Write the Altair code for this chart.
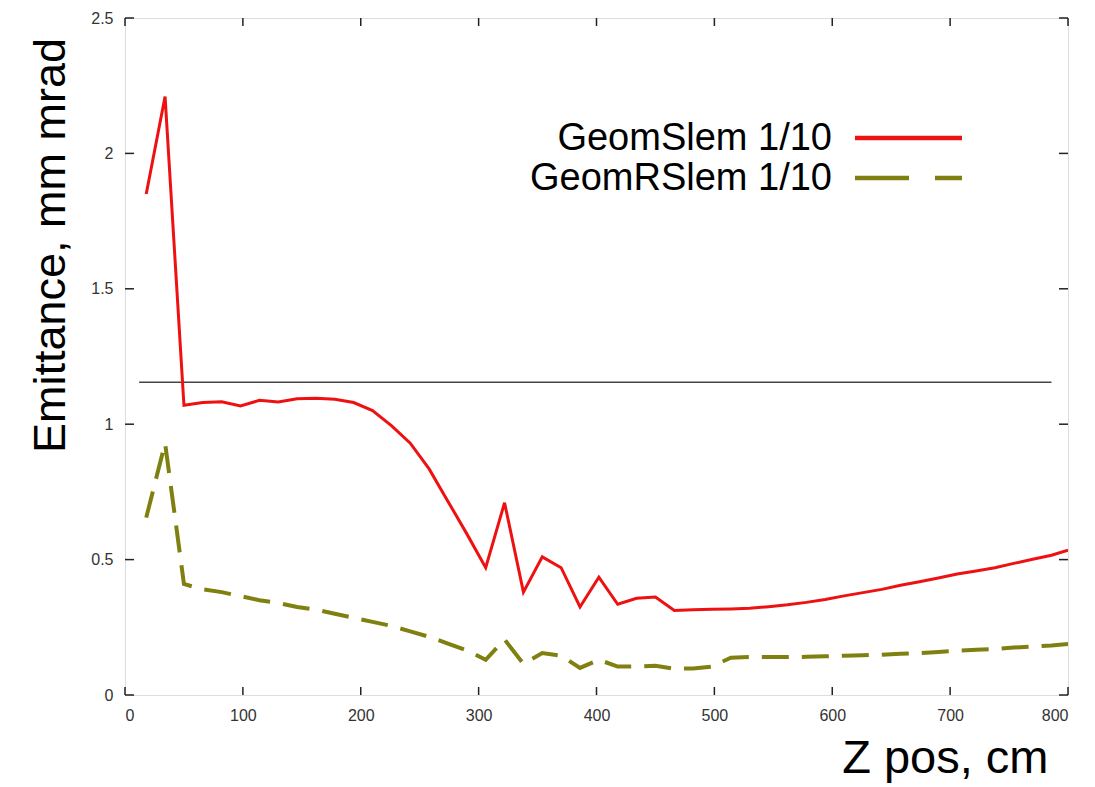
import altair as alt
import pandas as pd

# ---- data ----
z_pos = [18, 34, 50, 66, 82, 98, 114, 130, 146, 162, 178, 194, 210, 226, 242, 258,
         274, 290, 306, 322, 338, 354, 370, 386, 402, 418, 434, 450, 466, 482, 498,
         514, 530, 546, 562, 578, 594, 610, 626, 642, 658, 674, 690, 706, 722, 738,
         754, 770, 786, 800]
geom_slem = [1.85, 2.21, 1.07, 1.08, 1.083, 1.067, 1.088, 1.082, 1.094, 1.096, 1.092,
             1.08, 1.05, 0.995, 0.93, 0.835, 0.715, 0.595, 0.47, 0.71, 0.38, 0.51,
             0.47, 0.325, 0.435, 0.335, 0.357, 0.362, 0.312, 0.315, 0.317, 0.318, 0.32,
             0.326, 0.333, 0.342, 0.353, 0.366, 0.378, 0.39, 0.405, 0.418, 0.432,
             0.447, 0.458, 0.47, 0.486, 0.501, 0.516, 0.535]
geom_rslem = [0.655, 0.93, 0.41, 0.39, 0.38, 0.365, 0.35, 0.34, 0.325, 0.315, 0.30,
              0.285, 0.27, 0.255, 0.235, 0.215, 0.19, 0.165, 0.13, 0.205, 0.115, 0.155,
              0.145, 0.10, 0.13, 0.105, 0.105, 0.108, 0.097, 0.098, 0.105, 0.138, 0.14,
              0.14, 0.14, 0.141, 0.143, 0.145, 0.147, 0.149, 0.152, 0.155, 0.159,
              0.163, 0.167, 0.17, 0.175, 0.179, 0.183, 0.188]
series_names = ["GeomSlem 1/10", "GeomRSlem 1/10"]
x_ticks = [0, 100, 200, 300, 400, 500, 600, 700, 800]
y_ticks = [0, 0.5, 1, 1.5, 2, 2.5]
ref_level = [1.155]
ref_span = [12, 786]

W, H = 943, 677
FONT = "Liberation Sans"
RED = "#ee1111"
OLIVE = "#808010"

df = pd.DataFrame({"z": z_pos, "slem": geom_slem, "rslem": geom_rslem})
xticks_df = pd.DataFrame({"v": x_ticks})
yticks_df = pd.DataFrame({"v": y_ticks})
ref_df = pd.DataFrame({"y": ref_level, "x": [ref_span[0]], "x2": [ref_span[1]]})
one_row = pd.DataFrame({"k": [0]})

xscale = alt.Scale(domain=[0, 800], nice=False, zero=False)
yscale = alt.Scale(domain=[0, 2.5], nice=False, zero=False)

xaxis = alt.Axis(values=x_ticks, format="d", grid=False, domain=False, ticks=False,
                 labelFont=FONT, labelFontSize=16, labelColor="#333", labelPadding=12,
                 title="Z pos, cm", titleFont=FONT, titleFontSize=47,
                 titleFontWeight="normal", titleColor="#000",
                 titleX=923, titleY=77, titleAlign="right", titleBaseline="alphabetic",
                 titleAnchor="end")
yaxis = alt.Axis(values=y_ticks, labelExpr="datum.value + ''", grid=False, domain=False,
                 ticks=False, labelFont=FONT, labelFontSize=16, labelColor="#333",
                 labelPadding=12, title="Emittance, mm mrad", titleFont=FONT,
                 titleFontSize=45, titleFontWeight="normal", titleColor="#000",
                 titleX=-75, titleY=227, titleAngle=270, titleAlign="center",
                 titleBaseline="middle")

base = alt.Chart(df)

red_line = base.mark_line(color=RED, strokeWidth=3, clip=True).encode(
    x=alt.X("z:Q", scale=xscale, axis=xaxis),
    y=alt.Y("slem:Q", scale=yscale, axis=yaxis),
)
olive_line = base.mark_line(color=OLIVE, strokeWidth=4, strokeDash=[27, 13],
                            clip=True).encode(
    x=alt.X("z:Q", scale=xscale),
    y=alt.Y("rslem:Q", scale=yscale),
)

ref_rule = alt.Chart(ref_df).mark_rule(color="#444", strokeWidth=1.5).encode(
    x=alt.X("x:Q", scale=xscale), x2="x2:Q", y=alt.Y("y:Q", scale=yscale)
)

tick_style = dict(color="#222", strokeWidth=1.5)
bottom_ticks = alt.Chart(xticks_df).mark_rule(**tick_style).encode(
    x=alt.X("v:Q", scale=xscale), y=alt.value(H), y2=alt.value(H - 8))
top_ticks = alt.Chart(xticks_df).mark_rule(**tick_style).encode(
    x=alt.X("v:Q", scale=xscale), y=alt.value(0), y2=alt.value(8))
left_ticks = alt.Chart(yticks_df).mark_rule(**tick_style).encode(
    y=alt.Y("v:Q", scale=yscale), x=alt.value(0), x2=alt.value(9))
right_ticks = alt.Chart(yticks_df).mark_rule(**tick_style).encode(
    y=alt.Y("v:Q", scale=yscale), x=alt.value(W), x2=alt.value(W - 9))

# manual legend (gnuplot style: text left, sample line right)
leg_text1 = alt.Chart(one_row).mark_text(align="right", baseline="middle", font=FONT,
                                         fontSize=38, color="#000").encode(
    x=alt.value(707), y=alt.value(121), text=alt.value(series_names[0]))
leg_text2 = alt.Chart(one_row).mark_text(align="right", baseline="middle", font=FONT,
                                         fontSize=38, color="#000").encode(
    x=alt.value(707), y=alt.value(161), text=alt.value(series_names[1]))
leg_line1 = alt.Chart(one_row).mark_rule(color=RED, strokeWidth=4.5).encode(
    x=alt.value(730), x2=alt.value(837), y=alt.value(120))
leg_line2 = alt.Chart(one_row).mark_rule(color=OLIVE, strokeWidth=4.5,
                                         strokeDash=[54, 26]).encode(
    x=alt.value(730), x2=alt.value(837), y=alt.value(160))

chart = alt.layer(
    ref_rule, olive_line, red_line,
    bottom_ticks, top_ticks, left_ticks, right_ticks,
    leg_text1, leg_text2, leg_line1, leg_line2,
).properties(
    width=W, height=H,
    autosize=alt.AutoSizeParams(type="none"),
    padding={"left": 125, "top": 18, "right": 27, "bottom": 92},
).configure_view(
    stroke="#222", strokeWidth=1.5
).configure(background="white")

chart.save("out.html", embed_options={"renderer": "svg", "actions": False})
